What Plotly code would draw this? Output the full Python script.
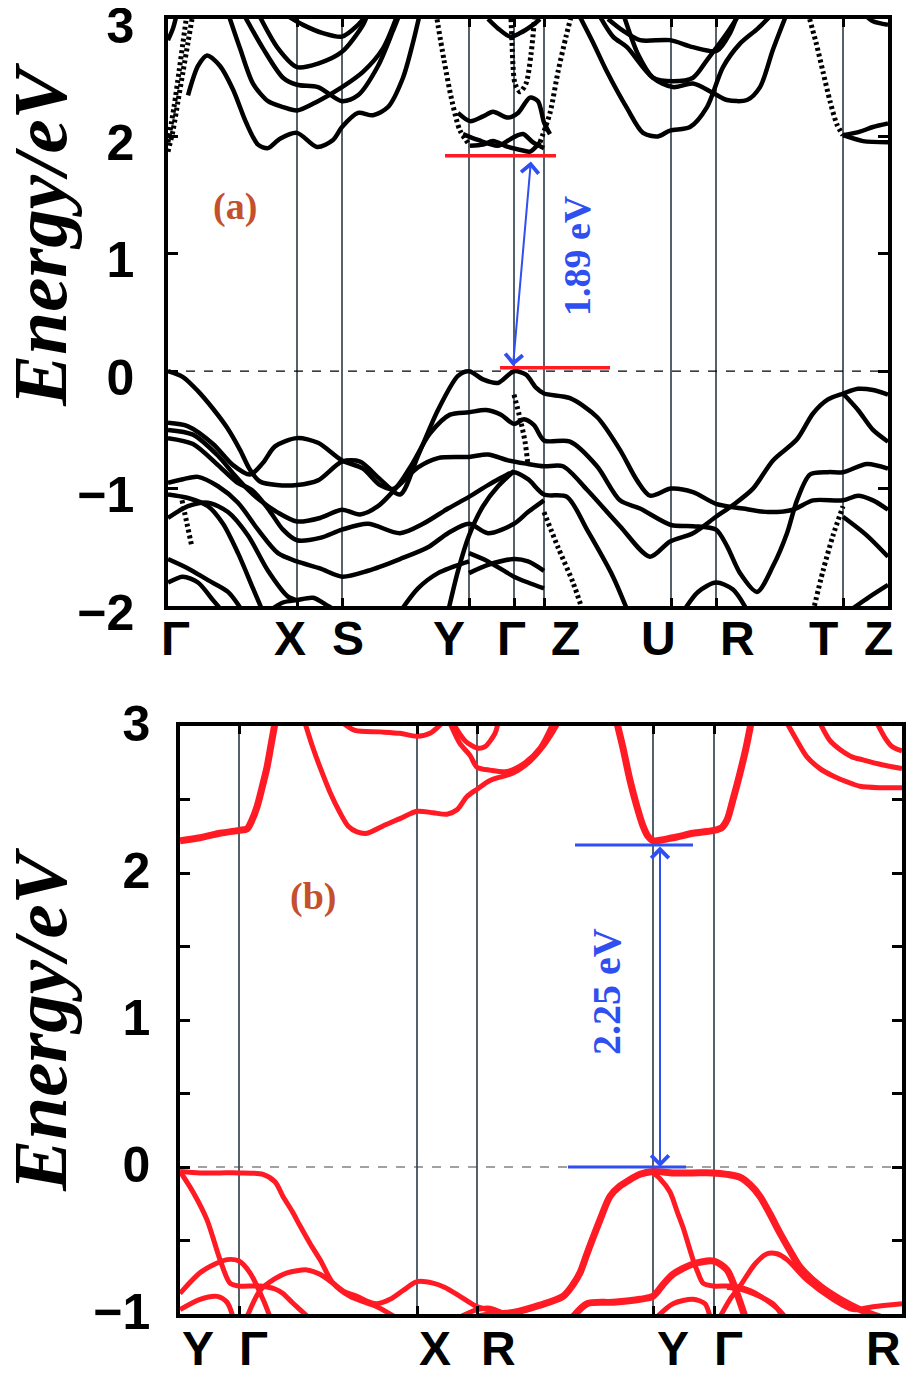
import plotly.graph_objects as go

# Band structures, panel (a) black and panel (b) red.
# k is path distance (arbitrary units), E in eV.

# ---- panel (a) ----
a_kpts = [0, 129, 174, 301, 346, 376, 503, 548, 675, 720]
a_labels = ['Γ', 'X', 'S', 'Y', 'Γ', 'Z', 'U', 'R', 'T', 'Z']
a_label_k = [7, 122, 180, 281, 343, 397, 490, 569, 655, 710]

a_vb1 = [(0, 0.0), (15, -0.05), (30, -0.17), (45, -0.32), (59, -0.48), (72, -0.67), (82, -0.84), (92, -0.94),
         (109, -0.97), (129, -0.97), (150, -0.93), (174, -0.77), (192, -0.77), (212, -0.92), (232, -1.05),
         (250, -0.72), (270, -0.33), (290, -0.04), (301, 0.0), (315, -0.07), (330, -0.1), (346, 0.0),
         (358, -0.03), (368, -0.14), (376, -0.19), (402, -0.23), (429, -0.39), (452, -0.67), (469, -0.93),
         (482, -1.06), (503, -1.0), (525, -1.03), (548, -1.13), (575, -1.17), (600, -1.2), (625, -1.18),
         (645, -1.1), (675, -1.1), (690, -1.06), (705, -1.1), (720, -1.18)]
a_vb2 = [(0, -0.44), (20, -0.47), (45, -0.62), (65, -0.8), (82, -0.88), (95, -0.78), (107, -0.64), (129, -0.57),
         (150, -0.61), (174, -0.76), (195, -0.83), (212, -0.97), (226, -1.0), (242, -0.82), (262, -0.53),
         (282, -0.37), (301, -0.35), (318, -0.33), (333, -0.37), (346, -0.45), (356, -0.41), (366, -0.46),
         (376, -0.59), (402, -0.6), (429, -0.81), (452, -1.1), (472, -1.17), (503, -1.31), (525, -1.32),
         (548, -1.35), (559, -1.49), (572, -1.72), (589, -1.88), (605, -1.66), (619, -1.38), (629, -1.1),
         (642, -0.88), (660, -0.86), (675, -0.86), (699, -0.79), (720, -0.83)]
a_vb3 = [(0, -0.5), (25, -0.54), (50, -0.72), (66, -0.88), (79, -1.0), (92, -1.1), (109, -1.2), (129, -1.28),
         (152, -1.25), (174, -1.18), (192, -1.22), (210, -1.15), (230, -0.98), (250, -0.82), (270, -0.74),
         (301, -0.73), (320, -0.71), (340, -0.76), (360, -0.79), (376, -0.81), (395, -0.81), (419, -1.01),
         (452, -1.32), (482, -1.58), (502, -1.45), (525, -1.38), (548, -1.24), (565, -1.14), (585, -1.0),
         (605, -0.76), (629, -0.58), (645, -0.36), (660, -0.24), (675, -0.19), (690, -0.15), (705, -0.16),
         (720, -0.2)]
a_vb4 = [(675, -0.19), (690, -0.33), (705, -0.5), (720, -0.6)]
a_vb5 = [(0, -0.57), (25, -0.62), (50, -0.8), (68, -0.94), (85, -1.02), (100, -1.17), (115, -1.35), (129, -1.44),
         (152, -1.42), (174, -1.35), (200, -1.3), (232, -1.38), (255, -1.3), (280, -1.17), (301, -1.07),
         (320, -0.97), (335, -0.9), (346, -0.86), (360, -0.92), (376, -1.05), (399, -1.07), (419, -1.35),
         (445, -1.75), (460, -2.05)]
a_vb6 = [(0, -0.95), (15, -0.92), (30, -0.9), (50, -0.98), (70, -1.12), (90, -1.35), (110, -1.55), (129, -1.62),
         (152, -1.68), (174, -1.75), (200, -1.7), (232, -1.6), (260, -1.5), (280, -1.38), (301, -1.3),
         (320, -1.38), (346, -1.3), (360, -1.2), (376, -1.1)]
a_vb7 = [(280, -2.05), (290, -1.7), (301, -1.4), (315, -1.15), (330, -0.98), (346, -0.85)]
a_vb8 = [(301, -1.55), (320, -1.62), (346, -1.75), (360, -1.8), (376, -1.85)]
a_vb9 = [(301, -1.72), (320, -1.65), (346, -1.6), (360, -1.62), (376, -1.7)]
a_vb10 = [(0, -1.6), (20, -1.68), (40, -1.78), (60, -1.88), (75, -2.05)]
a_vb11 = [(0, -1.8), (15, -1.75), (30, -1.8), (45, -1.95), (55, -2.05)]
a_vb12 = [(100, -2.05), (115, -1.97), (129, -1.95), (145, -1.93), (160, -2.0), (170, -2.05)]
a_vb13 = [(675, -1.24), (699, -1.4), (720, -1.58)]
a_vb15 = [(515, -2.05), (530, -1.88), (548, -1.8), (565, -1.86), (580, -2.05)]
a_vb16 = [(680, -2.05), (700, -1.93), (720, -1.82)]
a_vb19 = [(0, -1.25), (20, -1.15), (40, -1.12), (60, -1.2), (80, -1.4), (100, -1.7), (120, -1.92), (129, -1.95)]
a_vb20 = [(0, -1.05), (20, -1.08), (40, -1.15), (55, -1.3), (70, -1.55), (85, -1.85), (95, -2.05)]
a_vb21 = [(232, -2.05), (250, -1.85), (270, -1.72), (301, -1.62)]

a_cb4 = [(20, 2.35), (30, 2.6), (39, 2.69), (52, 2.6), (65, 2.4), (78, 2.12), (90, 1.93), (100, 1.9), (112, 1.98),
         (129, 2.03), (149, 1.91), (165, 1.97), (174, 2.08), (190, 2.2), (205, 2.18), (220, 2.25), (235, 2.5),
         (245, 2.8), (252, 3.05)]
a_cb5 = [(60, 3.05), (72, 2.75), (85, 2.45), (100, 2.3), (115, 2.25), (129, 2.22), (150, 2.3), (174, 2.42),
         (195, 2.55), (215, 2.75), (230, 3.05)]
a_cb6 = [(75, 3.05), (95, 2.75), (115, 2.5), (129, 2.44), (150, 2.42), (174, 2.3), (190, 2.35), (210, 2.6),
         (225, 2.9), (232, 3.05)]
a_cb7 = [(90, 3.05), (110, 2.75), (129, 2.59), (150, 2.62), (174, 2.72), (195, 2.95), (200, 3.05)]
a_cb8 = [(115, 3.05), (135, 2.95), (155, 2.88), (174, 2.85), (190, 2.95), (200, 3.05)]
a_cb3 = [(0, 2.82), (5, 2.92), (9, 3.05)]
a_cb10 = [(302, 1.92), (315, 1.93), (325, 1.96), (340, 1.91), (355, 1.88), (362, 1.87), (372, 1.95)]
a_cb12 = [(290, 2.2), (302, 2.13), (315, 2.17), (325, 2.21), (340, 2.16), (350, 2.2), (362, 2.33), (370, 2.3),
          (376, 2.12), (382, 2.02)]
a_cb13 = [(295, 2.02), (310, 1.97), (330, 1.92), (345, 1.99), (355, 2.02), (365, 1.95), (376, 1.9)]
a_cb15 = [(320, 3.0), (330, 2.92), (342, 2.85), (352, 2.88), (365, 2.95), (372, 3.0)]
a_cb16 = [(410, 3.05), (425, 2.8), (439, 2.55), (459, 2.24), (475, 2.03), (490, 2.0), (502, 2.05), (522, 2.08),
          (539, 2.25), (555, 2.59), (572, 2.79), (590, 2.92), (605, 3.05)]
a_cb17 = [(430, 3.05), (445, 2.85), (459, 2.76), (485, 2.5), (505, 2.47), (525, 2.5), (539, 2.65), (559, 2.88),
          (572, 3.05)]
a_cb18 = [(440, 3.0), (455, 2.9), (472, 2.82), (502, 2.82), (525, 2.76), (549, 2.73), (562, 2.88), (570, 3.05)]
a_cb19 = [(455, 3.05), (470, 2.7), (485, 2.5), (505, 2.42), (525, 2.45), (545, 2.37), (559, 2.31), (579, 2.31),
          (592, 2.42), (605, 2.74), (619, 3.05)]
a_cb21 = [(675, 2.01), (692, 2.04), (705, 2.08), (720, 2.11)]
a_cb22 = [(675, 2.01), (695, 1.96), (720, 1.95)]
a_cb23 = [(695, 3.05), (705, 2.98), (720, 2.95)]

# steep bands that print as dots
a_dot1 = [(0, 1.87), (5, 2.05), (10, 2.3), (15, 2.55), (20, 2.8), (25, 3.05)]
a_dot2 = [(0, 1.95), (6, 2.25), (11, 2.55), (15, 2.8), (19, 3.05)]
a_dot3 = [(268, 3.05), (276, 2.65), (284, 2.3), (292, 2.05), (302, 1.92)]
a_dot4 = [(372, 1.95), (382, 2.2), (390, 2.55), (398, 2.85), (404, 3.05)]
a_dot5 = [(343, 3.0), (344, 2.8), (345, 2.6), (347, 2.45), (352, 2.38), (358, 2.45), (363, 2.7), (367, 3.05)]
a_dot6 = [(640, 3.05), (648, 2.8), (655, 2.55), (662, 2.3), (669, 2.1), (675, 2.01)]
a_dot7 = [(645, -2.05), (655, -1.7), (665, -1.4), (675, -1.15)]
a_dot8 = [(376, -1.2), (390, -1.5), (405, -1.8), (415, -2.05)]
a_dot9 = [(14, -1.1), (19, -1.3), (24, -1.5)]
a_dot10 = [(346, -0.2), (352, -0.4), (357, -0.6), (360, -0.8)]

a_solid = [a_vb1, a_vb2, a_vb3, a_vb4, a_vb5, a_vb6, a_vb7, a_vb8, a_vb9, a_vb10, a_vb11, a_vb12, a_vb13,
           a_vb15, a_vb16, a_vb19, a_vb20, a_vb21, a_cb3, a_cb4, a_cb5, a_cb6, a_cb7, a_cb8, a_cb10, a_cb12,
           a_cb13, a_cb15, a_cb16, a_cb17, a_cb18, a_cb19, a_cb21, a_cb22, a_cb23]
a_dotted = [a_dot1, a_dot2, a_dot3, a_dot4, a_dot5, a_dot6, a_dot7, a_dot8, a_dot9, a_dot10]

# gap markers (a)
a_cbm_k = [277, 388]
a_cbm_e = 1.835
a_vbm_k = [332, 442]
a_vbm_e = 0.03
a_arrow = [(345, 0.045), (363, 1.8)]

# ---- panel (b) ----
b_kpts = [0, 59, 237, 297, 473, 534, 722]
b_labels = ['Y', 'Γ', 'X', 'R', 'Y', 'Γ', 'R']
b_label_k = [18, 73, 255, 318, 493, 548, 703]

b_vb1 = [(0, -0.03), (20, -0.04), (40, -0.04), (59, -0.04), (83, -0.05), (95, -0.1), (103, -0.2), (112, -0.3),
         (120, -0.4), (130, -0.52), (140, -0.63), (153, -0.79), (170, -0.88), (197, -0.95), (215, -1.02)]
b_vb2 = [(0, -0.03), (13, -0.17), (27, -0.36), (40, -0.63), (50, -0.79), (59, -0.81), (80, -0.81), (95, -0.83),
         (103, -0.86), (112, -0.92), (120, -0.97), (128, -1.02)]
b_vb3 = [(0, -0.86), (20, -0.72), (35, -0.66), (47, -0.63), (59, -0.64), (70, -0.72), (83, -0.9), (90, -1.02)]
b_vb4 = [(0, -0.97), (20, -0.9), (37, -0.88), (47, -0.92), (53, -1.02)]
b_vb5 = [(67, -1.02), (80, -0.84), (95, -0.76), (107, -0.72), (127, -0.7), (140, -0.73), (153, -0.79),
         (165, -0.85), (177, -0.88), (190, -0.92), (197, -0.93), (210, -0.9), (223, -0.84), (237, -0.78),
         (253, -0.79), (265, -0.82), (280, -0.88), (297, -0.95), (315, -0.98), (330, -1.0), (340, -1.02)]
b_vb6 = [(297, -1.02), (315, -1.0), (333, -0.99), (360, -0.94), (383, -0.88), (393, -0.8), (400, -0.72),
         (407, -0.59), (420, -0.36), (430, -0.2), (440, -0.13), (460, -0.05), (473, -0.03), (493, -0.04),
         (513, -0.04), (533, -0.04), (547, -0.05), (560, -0.07), (570, -0.12), (580, -0.2), (590, -0.32),
         (600, -0.45), (610, -0.57), (620, -0.68), (640, -0.81), (660, -0.9), (680, -0.97), (700, -1.02)]
b_vb7 = [(473, -0.04), (480, -0.08), (490, -0.17), (497, -0.3), (503, -0.41), (508, -0.52), (513, -0.63),
         (518, -0.72), (523, -0.79), (533, -0.81), (553, -0.81), (570, -0.84), (585, -0.9), (600, -0.98),
         (605, -1.02)]
b_vb8 = [(393, -1.02), (407, -0.93), (433, -0.92), (460, -0.9), (473, -0.88), (483, -0.8), (493, -0.73),
         (513, -0.66), (534, -0.64), (547, -0.7), (557, -0.86), (565, -1.02)]
b_vb9 = [(477, -1.02), (493, -0.93), (513, -0.9), (525, -0.93), (530, -1.02)]
b_vb10 = [(540, -1.02), (550, -0.9), (560, -0.81), (575, -0.66), (587, -0.59), (597, -0.59), (607, -0.63),
          (627, -0.77), (653, -0.9), (673, -0.97), (693, -0.95), (722, -0.93)]
b_vb11 = [(547, -0.82), (560, -0.83), (573, -0.86), (593, -0.93), (603, -1.02)]
b_vb12 = [(280, -1.02), (297, -0.97), (310, -0.96), (325, -1.0), (333, -1.02)]

b_cb1 = [(0, 2.22), (20, 2.24), (40, 2.27), (59, 2.29), (67, 2.3), (72, 2.36), (77, 2.45), (82, 2.58),
         (87, 2.72), (91, 2.87), (95, 3.02)]
b_cb2 = [(125, 3.02), (133, 2.85), (140, 2.72), (150, 2.55), (160, 2.41), (168, 2.32), (177, 2.28), (187, 2.27),
         (203, 2.32), (220, 2.37), (237, 2.42), (253, 2.41), (267, 2.4), (277, 2.43), (287, 2.52), (297, 2.57),
         (310, 2.63), (333, 2.68), (350, 2.76), (362, 2.85), (372, 2.95), (378, 3.02)]
b_cb3 = [(163, 3.02), (175, 2.97), (200, 2.96), (220, 2.95), (237, 2.93), (250, 2.95), (262, 3.02)]
b_cb4 = [(270, 3.02), (280, 2.88), (290, 2.8), (297, 2.72), (310, 2.7), (327, 2.69), (345, 2.75), (360, 2.85),
         (373, 3.02)]
b_cb5 = [(273, 3.02), (285, 2.9), (297, 2.85), (305, 2.86), (315, 2.95), (318, 3.02)]
b_cb6 = [(437, 3.02), (443, 2.85), (450, 2.63), (457, 2.45), (463, 2.32), (468, 2.25), (473, 2.22), (493, 2.24),
         (513, 2.27), (534, 2.29), (542, 2.31), (547, 2.36), (553, 2.5), (560, 2.68), (566, 2.85), (571, 3.02)]
b_cb7 = [(607, 3.02), (617, 2.9), (627, 2.79), (640, 2.71), (653, 2.66), (667, 2.62), (680, 2.59), (700, 2.58),
         (722, 2.58)]
b_cb8 = [(640, 3.02), (650, 2.9), (660, 2.84), (672, 2.79), (683, 2.77), (700, 2.74), (722, 2.71)]
b_cb9 = [(697, 3.02), (705, 2.92), (712, 2.86), (722, 2.83)]

b_thin = [b_vb1, b_vb2, b_vb3, b_vb4, b_vb5, b_vb7, b_vb9, b_vb10, b_vb11, b_vb12, b_cb2, b_cb3, b_cb4, b_cb5,
          b_cb7, b_cb8, b_cb9]
b_thick = [b_vb6, b_vb8, b_cb1, b_cb6]

# gap markers (b)
b_cbm_k = [395, 513]
b_cbm_e = 2.19
b_vbm_k = [388, 506]
b_vbm_e = 0.0
b_arrow = [(480, 0.0), (480, 2.19)]

BLACK = '#000000'
RED = '#ff1a24'
BLUE = '#2f4ff0'
GRID = '#55616b'
W, H = 916, 1379
OFF = 8  # the page body margin shifts the figure by 8 px


def fx(px):
    return (px - OFF) / W


def fy(py):
    return 1 - (py - OFF) / H


fig = go.Figure()


def add_band(pts, xa, ya, color, width, dash='solid'):
    fig.add_trace(go.Scatter(
        x=[p[0] for p in pts], y=[p[1] for p in pts], mode='lines',
        line=dict(color=color, width=width, dash=dash, shape='spline', smoothing=0.8),
        xaxis=xa, yaxis=ya, showlegend=False, hoverinfo='skip'))


for band in a_solid:
    add_band(band, 'x', 'y', BLACK, 4.5)
for band in a_dotted:
    add_band(band, 'x', 'y', BLACK, 5, '3px,3px')
for band in b_thin:
    add_band(band, 'x2', 'y2', RED, 5)
for band in b_thick:
    add_band(band, 'x2', 'y2', RED, 7)

# zero lines
fig.add_trace(go.Scatter(x=[a_kpts[0], a_kpts[-1]], y=[0, 0], mode='lines', xaxis='x', yaxis='y',
                         line=dict(color=BLACK, width=1.2, dash='dash'), showlegend=False, hoverinfo='skip'))
fig.add_trace(go.Scatter(x=[b_kpts[0], b_kpts[-1]], y=[0, 0], mode='lines', xaxis='x2', yaxis='y2',
                         line=dict(color='#444444', width=1.2, dash='dash'), showlegend=False, hoverinfo='skip'))

# band edge markers
fig.add_trace(go.Scatter(x=a_cbm_k, y=[a_cbm_e] * 2, mode='lines', xaxis='x', yaxis='y',
                         line=dict(color=RED, width=3.5), showlegend=False, hoverinfo='skip'))
fig.add_trace(go.Scatter(x=a_vbm_k, y=[a_vbm_e] * 2, mode='lines', xaxis='x', yaxis='y',
                         line=dict(color=RED, width=3.5), showlegend=False, hoverinfo='skip'))
fig.add_trace(go.Scatter(x=b_cbm_k, y=[b_cbm_e] * 2, mode='lines', xaxis='x2', yaxis='y2',
                         line=dict(color=BLUE, width=3), showlegend=False, hoverinfo='skip'))
fig.add_trace(go.Scatter(x=b_vbm_k, y=[b_vbm_e] * 2, mode='lines', xaxis='x2', yaxis='y2',
                         line=dict(color=BLUE, width=3), showlegend=False, hoverinfo='skip'))

annotations = []
# double arrows
for (p0, p1), xr, yr in [(a_arrow, 'x', 'y'), (b_arrow, 'x2', 'y2')]:
    annotations.append(dict(x=p0[0], y=p0[1], ax=p1[0], ay=p1[1], xref=xr, yref=yr, axref=xr, ayref=yr,
                            text='', showarrow=True, arrowhead=4, startarrowhead=4, arrowside='end+start',
                            arrowsize=1.7, startarrowsize=1.7, arrowwidth=2, arrowcolor=BLUE))


def paper_text(px, py, text, font, angle=0):
    return dict(x=fx(px), y=fy(py), xref='paper', yref='paper', text=text, textangle=angle,
                xanchor='center', yanchor='middle', showarrow=False, font=font)


gap_font = dict(family='Liberation Serif', size=38, color=BLUE, weight='bold')
annotations.append(paper_text(577, 256, '1.89 eV', gap_font, -90))
annotations.append(paper_text(607, 992, '2.25 eV', dict(gap_font, size=40), -90))

panel_font = dict(family='Liberation Serif', size=38, color='#c4502e', weight='bold')
annotations.append(paper_text(235, 206, '(a)', panel_font))
annotations.append(paper_text(313, 896, '(b)', panel_font))

title_font = dict(family='Liberation Serif', size=77, color=BLACK, weight='bold', style='italic')
annotations.append(paper_text(40, 235, 'Energy/eV', title_font, -90))
annotations.append(paper_text(40, 1020, 'Energy/eV', title_font, -90))

# k-point labels: x in data units, y in paper units
label_font = dict(family='Liberation Sans', size=48, color=BLACK, weight='bold')
for lab, k in zip(a_labels, a_label_k):
    annotations.append(dict(x=k, y=fy(638), xref='x', yref='paper', text=lab, showarrow=False,
                            xanchor='center', yanchor='middle', font=label_font))
for lab, k in zip(b_labels, b_label_k):
    annotations.append(dict(x=k, y=fy(1348), xref='x2', yref='paper', text=lab, showarrow=False,
                            xanchor='center', yanchor='middle', font=label_font))

tick_font = dict(family='Liberation Sans', size=50, color=BLACK, weight='bold')
frame = dict(showline=True, linecolor=BLACK, linewidth=3.5, mirror='ticks', zeroline=False,
             ticks='inside', tickcolor=BLACK, tickwidth=3, automargin=False)

a_yticks = [-2, -1, 0, 1, 2, 3]
b_yticks = [-1, -0.5, 0, 0.5, 1, 1.5, 2, 2.5, 3]
b_yticktext = ['−1', '', '0', '', '1', '', '2', '', '3']

fig.update_layout(
    width=W, height=H, autosize=False, margin=dict(l=0, r=0, t=0, b=0, pad=0),
    paper_bgcolor='white', plot_bgcolor='white', showlegend=False,
    annotations=annotations,
    xaxis=dict(frame, domain=[fx(168), fx(888)], range=[a_kpts[0], a_kpts[-1]], tickvals=a_kpts,
               showticklabels=False, ticklen=8, showgrid=True, gridcolor=GRID, gridwidth=1.5, anchor='y'),
    yaxis=dict(frame, domain=[fy(606), fy(19)], range=[-2, 3], tickvals=a_yticks,
               ticktext=['−2', '−1', '0', '1', '2', '3'], ticklen=10, showgrid=False, tickfont=tick_font,
               ticklabelstandoff=20, ticklabelshift=6, ticklabeloverflow='allow', anchor='x'),
    xaxis2=dict(frame, domain=[fx(180), fx(902)], range=[b_kpts[0], b_kpts[-1]], tickvals=b_kpts,
                showticklabels=False, ticklen=8, showgrid=True, gridcolor=GRID, gridwidth=1.5, anchor='y2'),
    yaxis2=dict(frame, domain=[fy(1314), fy(726)], range=[-1, 3], tickvals=b_yticks,
                ticktext=b_yticktext, ticklen=10, showgrid=False, tickfont=tick_font,
                ticklabelstandoff=16, ticklabelshift=-3, ticklabeloverflow='allow', anchor='x2'),
)

fig.write_html("out.html")
